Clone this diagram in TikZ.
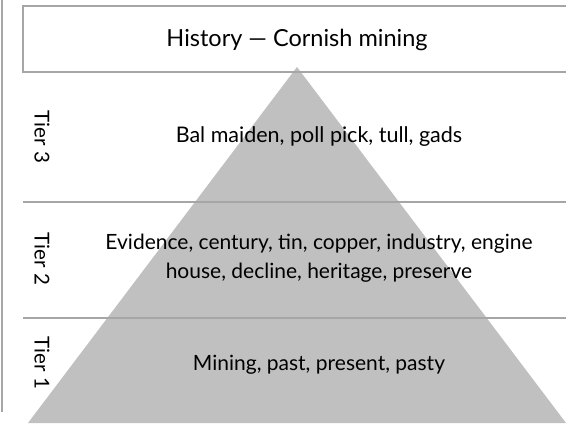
\documentclass[tikz,border=0pt]{standalone}
\usepackage{fontspec}
\setmainfont{Lato}
\definecolor{rulegray}{RGB}{166,166,166}
\definecolor{pyrgray}{RGB}{192,192,192}
\begin{document}
\begin{tikzpicture}[x=1pt,y=-1pt,
  rule/.style={draw=rulegray,line width=1.6pt},
  tierlabel/.style={rotate=-90,font=\fontsize{20.5}{24}\selectfont,inner sep=0pt},
  words/.style={font=\fontsize{21}{29}\selectfont,align=center,inner sep=0pt}]
\useasboundingbox (0,0) rectangle (566,425);
\fill[white] (0,0) rectangle (566,425);
% pyramid
\fill[pyrgray] (297,67) -- (28,423) -- (566,423) -- cycle;
% left rule
\draw[rule] (2,0) -- (2,412);
% title box
\draw[rule] (567,6) -- (23,6) -- (23,72) -- (567,72);
% tier rules
\draw[rule] (23,202) -- (567,202);
\draw[rule] (23,318) -- (567,318);
% texts
\node[font=\fontsize{23.5}{28}\selectfont,inner sep=0pt] (title) at (297,40) {History — Cornish mining};
\node[tierlabel] (t3) at (42,137) {Tier 3};
\node[tierlabel] (t2) at (42,259) {Tier 2};
\node[tierlabel] (t1) at (42,363) {Tier 1};
\node[font=\fontsize{21.5}{29}\selectfont,inner sep=0pt] (w3) at (319,137) {Bal maiden, poll pick, tull, gads};
\node[words] (w2) at (319,258) {Evidence, century, tin, copper, industry, engine\\house, decline, heritage, preserve};
\node[words] (w1) at (319,365) {Mining, past, present, pasty};
\end{tikzpicture}
\end{document}
